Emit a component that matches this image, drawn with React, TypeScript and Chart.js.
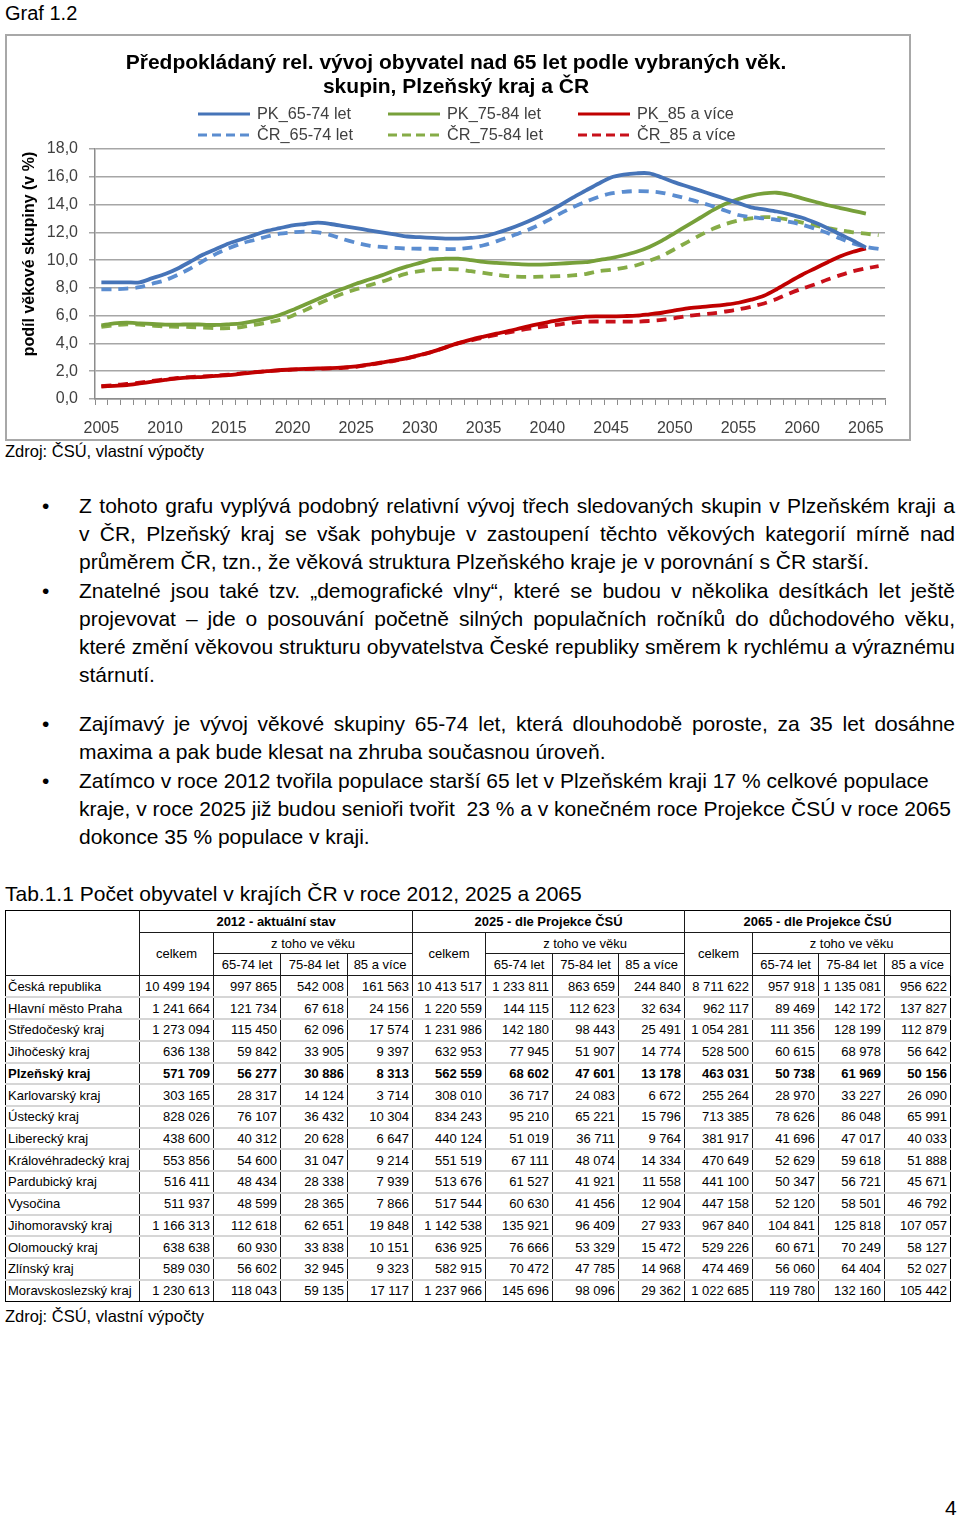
import React, { useEffect, useRef } from 'react';
import { Chart, registerables } from 'chart.js';

Chart.register(...registerables);

const FONT = '"Liberation Sans", Arial, Helvetica, sans-serif';

// ---------- chart data ----------
const years = [
  '2005', '2006', '2007', '2008', '2009', '2010', '2011', '2012', '2013', '2014',
  '2015', '2016', '2017', '2018', '2019', '2020', '2021', '2022', '2023', '2024',
  '2025', '2026', '2027', '2028', '2029', '2030', '2031', '2032', '2033', '2034',
  '2035', '2036', '2037', '2038', '2039', '2040', '2041', '2042', '2043', '2044',
  '2045', '2046', '2047', '2048', '2049', '2050', '2051', '2052', '2053', '2054',
  '2055', '2056', '2057', '2058', '2059', '2060', '2061', '2062', '2063', '2064',
  '2065', '2066',
];
const xTickLabels = ['2005', '2010', '2015', '2020', '2025', '2030', '2035', '2040', '2045', '2050', '2055', '2060', '2065'];

const chartTitle = [
  'Předpokládaný rel. vývoj obyvatel nad 65 let podle vybraných věk.',
  'skupin, Plzeňský kraj a ČR',
];
const yAxisTitle = 'podíl věkové skupiny (v %)';

const pk6574 = [
  8.4, 8.4, 8.4, 8.4, 8.7, 9.0, 9.4, 9.9, 10.4, 10.8,
  11.2, 11.5, 11.8, 12.1, 12.3, 12.5, 12.6, 12.7, 12.6, 12.45,
  12.3, 12.15, 12.0, 11.85, 11.7, 11.65, 11.6, 11.55, 11.55, 11.6,
  11.7, 11.95, 12.25, 12.6, 13.0, 13.45, 13.95, 14.5, 15.0, 15.5,
  15.95, 16.15, 16.25, 16.25, 15.95, 15.6, 15.3, 15.0, 14.7, 14.4,
  14.1, 13.8, 13.65, 13.5, 13.3, 13.05, 12.7, 12.3, 11.85, 11.4,
  10.9,
];
const pk7584 = [
  5.3, 5.45, 5.5, 5.45, 5.4, 5.35, 5.35, 5.38, 5.35, 5.33,
  5.38, 5.45, 5.6, 5.8, 6.05, 6.4, 6.8, 7.2, 7.6, 7.95,
  8.3, 8.6, 8.9, 9.25, 9.55, 9.8, 10.05, 10.1, 10.1, 10.0,
  9.87, 9.8, 9.75, 9.7, 9.68, 9.7, 9.75, 9.8, 9.85, 10.0,
  10.15, 10.35, 10.6, 10.95, 11.4, 11.95, 12.5, 13.05, 13.6, 14.05,
  14.4, 14.65, 14.8, 14.85, 14.7, 14.45, 14.2, 13.95, 13.75, 13.55,
  13.35,
];
const pk85 = [
  0.9, 0.95, 1.0, 1.12, 1.25, 1.37, 1.48, 1.55, 1.6, 1.66,
  1.72, 1.82, 1.91, 2.0, 2.08, 2.13, 2.17, 2.2, 2.22, 2.27,
  2.35, 2.48, 2.63, 2.78, 2.95, 3.17, 3.41, 3.72, 4.02, 4.27,
  4.49, 4.7, 4.9, 5.12, 5.33, 5.52, 5.69, 5.82, 5.93, 5.95,
  5.95, 5.97, 6.0, 6.1, 6.21, 6.38, 6.53, 6.62, 6.7, 6.8,
  6.93, 7.15, 7.43, 7.9, 8.44, 8.95, 9.4, 9.85, 10.28, 10.6,
  10.85,
];
const cr6574 = [
  7.9, 7.9, 7.95, 8.05, 8.3, 8.55, 8.95, 9.4, 9.95, 10.45,
  10.85, 11.2, 11.45, 11.7, 11.9, 12.0, 12.05, 12.0, 11.8, 11.5,
  11.25, 11.05, 10.95, 10.88, 10.83, 10.82, 10.82, 10.8, 10.8, 10.9,
  11.07, 11.35, 11.67, 12.0, 12.38, 12.85, 13.35, 13.8, 14.2, 14.55,
  14.8, 14.92, 14.97, 14.95, 14.85, 14.65, 14.42, 14.15, 13.87, 13.55,
  13.25, 13.1, 13.0, 12.9, 12.75, 12.55, 12.27, 11.95, 11.55, 11.2,
  10.95, 10.8,
];
const cr7584 = [
  5.2, 5.3, 5.38, 5.35, 5.28, 5.22, 5.2, 5.18, 5.14, 5.1,
  5.1, 5.18, 5.33, 5.5, 5.7, 6.0, 6.4, 6.85, 7.25, 7.6,
  7.9, 8.18, 8.45, 8.75, 9.04, 9.2, 9.33, 9.35, 9.33, 9.2,
  9.08, 8.95, 8.84, 8.8, 8.8, 8.82, 8.84, 8.9, 9.0, 9.2,
  9.3, 9.45, 9.63, 9.95, 10.3, 10.8, 11.3, 11.8, 12.25, 12.6,
  12.85, 13.0, 13.1, 13.05, 12.9, 12.7, 12.5, 12.3, 12.15, 12.0,
  11.9, 11.8,
];
const cr85 = [
  0.92, 1.0, 1.08, 1.18, 1.3, 1.42, 1.52, 1.58, 1.63, 1.68,
  1.75, 1.85, 1.93, 2.0, 2.07, 2.12, 2.15, 2.18, 2.2, 2.24,
  2.32, 2.45, 2.6, 2.75, 2.93, 3.15, 3.4, 3.7, 4.0, 4.22,
  4.43, 4.62, 4.8, 4.98, 5.12, 5.25, 5.38, 5.5, 5.57, 5.58,
  5.57, 5.57, 5.57, 5.62, 5.69, 5.82, 5.98, 6.08, 6.17, 6.3,
  6.45, 6.65, 6.88, 7.2, 7.6, 7.95, 8.25, 8.6, 8.92, 9.2,
  9.4, 9.57,
];

const seriesLabels = ['PK_65-74 let', 'PK_75-84 let', 'PK_85 a více', 'ČR_65-74 let', 'ČR_75-84 let', 'ČR_85 a více'];

// ---------- table data ----------
const regions = [
  'Česká republika', 'Hlavní město Praha', 'Středočeský kraj', 'Jihočeský kraj', 'Plzeňský kraj',
  'Karlovarský kraj', 'Ústecký kraj', 'Liberecký kraj', 'Královéhradecký kraj', 'Pardubický kraj',
  'Vysočina', 'Jihomoravský kraj', 'Olomoucký kraj', 'Zlínský kraj', 'Moravskoslezský kraj',
];
const tot2012 = [10499194, 1241664, 1273094, 636138, 571709, 303165, 828026, 438600, 553856, 516411, 511937, 1166313, 638638, 589030, 1230613];
const a6574_2012 = [997865, 121734, 115450, 59842, 56277, 28317, 76107, 40312, 54600, 48434, 48599, 112618, 60930, 56602, 118043];
const a7584_2012 = [542008, 67618, 62096, 33905, 30886, 14124, 36432, 20628, 31047, 28338, 28365, 62651, 33838, 32945, 59135];
const a85_2012 = [161563, 24156, 17574, 9397, 8313, 3714, 10304, 6647, 9214, 7939, 7866, 19848, 10151, 9323, 17117];
const tot2025 = [10413517, 1220559, 1231986, 632953, 562559, 308010, 834243, 440124, 551519, 513676, 517544, 1142538, 636925, 582915, 1237966];
const a6574_2025 = [1233811, 144115, 142180, 77945, 68602, 36717, 95210, 51019, 67111, 61527, 60630, 135921, 76666, 70472, 145696];
const a7584_2025 = [863659, 112623, 98443, 51907, 47601, 24083, 65221, 36711, 48074, 41921, 41456, 96409, 53329, 47785, 98096];
const a85_2025 = [244840, 32634, 25491, 14774, 13178, 6672, 15796, 9764, 14334, 11558, 12904, 27933, 15472, 14968, 29362];
const tot2065 = [8711622, 962117, 1054281, 528500, 463031, 255264, 713385, 381917, 470649, 441100, 447158, 967840, 529226, 474469, 1022685];
const a6574_2065 = [957918, 89469, 111356, 60615, 50738, 28970, 78626, 41696, 52629, 50347, 52120, 104841, 60671, 56060, 119780];
const a7584_2065 = [1135081, 142172, 128199, 68978, 61969, 33227, 86048, 47017, 59618, 56721, 58501, 125818, 70249, 64404, 132160];
const a85_2065 = [956622, 137827, 112879, 56642, 50156, 26090, 65991, 40033, 51888, 45671, 46792, 107057, 58127, 52027, 105442];
const groupHeaders = ['2012 - aktuální stav', '2025 - dle Projekce ČSÚ', '2065 - dle Projekce ČSÚ'];
const ageHeaders = ['65-74 let', '75-84 let', '85 a více'];
const boldRegion = 'Plzeňský kraj';

const tableColumns = [tot2012, a6574_2012, a7584_2012, a85_2012, tot2025, a6574_2025, a7584_2025, a85_2025, tot2065, a6574_2065, a7584_2065, a85_2065];
const colWidths = [134, 74, 67, 67, 65, 73, 67, 66, 66, 68, 66, 66, 66];

const fmt = (n: number) => n.toString().replace(/\B(?=(\d{3})+(?!\d))/g, '\u00a0');

// ---------- chart ----------
const COLORS = {
  blue: '#4674B8',
  blueD: '#5B8DD0',
  green: '#77A03A',
  greenD: '#86AC47',
  red: '#C00000',
  redD: '#C8101A',
};

const overlayPlugin = {
  id: 'overlay',
  afterDraw(chart: any) {
    const ctx = chart.ctx as CanvasRenderingContext2D;
    ctx.save();
    ctx.translate(23, 218);
    ctx.rotate(-Math.PI / 2);
    ctx.font = `bold 16px ${FONT}`;
    ctx.fillStyle = '#000';
    ctx.textAlign = 'center';
    ctx.textBaseline = 'middle';
    ctx.fillText(yAxisTitle, 0, 0);
    ctx.restore();

    const colX = [191, 381, 571];
    const rowY = [78, 99];
    chart.data.datasets.forEach((ds: any, i: number) => {
      const x = colX[i % 3];
      const y = rowY[Math.floor(i / 3)];
      ctx.save();
      ctx.strokeStyle = ds.borderColor;
      ctx.lineWidth = 3;
      ctx.setLineDash(ds.borderDash && ds.borderDash.length ? [9, 5] : []);
      ctx.beginPath();
      ctx.moveTo(x, y);
      ctx.lineTo(x + 52, y);
      ctx.stroke();
      ctx.setLineDash([]);
      ctx.fillStyle = '#404040';
      ctx.font = `16.3px ${FONT}`;
      ctx.textAlign = 'left';
      ctx.textBaseline = 'middle';
      ctx.fillText(ds.label, x + 59, y + 1);
      ctx.restore();
    });
  },
};

function LineChart() {
  const ref = useRef<HTMLCanvasElement>(null);
  useEffect(() => {
    const mk = (label: string, data: number[], color: string, dashed: boolean) => ({
      label,
      data,
      borderColor: color,
      backgroundColor: color,
      borderWidth: 3.8,
      borderDash: dashed ? [10, 7] : [],
      pointRadius: 0,
      pointHoverRadius: 0,
      tension: 0.3,
      fill: false,
      borderCapStyle: 'butt',
    });
    const chart = new Chart(ref.current!, {
      type: 'line',
      data: {
        labels: years,
        datasets: [
          mk(seriesLabels[0], pk6574, COLORS.blue, false),
          mk(seriesLabels[1], pk7584, COLORS.green, false),
          mk(seriesLabels[2], pk85, COLORS.red, false),
          mk(seriesLabels[3], cr6574, COLORS.blueD, true),
          mk(seriesLabels[4], cr7584, COLORS.greenD, true),
          mk(seriesLabels[5], cr85, COLORS.redD, true),
        ] as any,
      },
      options: {
        responsive: false,
        animation: false,
        devicePixelRatio: 1,
        layout: { padding: { left: 20, right: 24, top: 0, bottom: 0 } },
        plugins: {
          legend: { display: false },
          tooltip: { enabled: false },
          title: {
            display: true,
            text: chartTitle,
            color: '#000',
            font: { family: FONT, size: 21, weight: 'bold', lineHeight: 1.143 },
            padding: { top: 15, bottom: 50 },
          },
        },
        scales: {
          x: {
            type: 'category',
            offset: true,
            grid: {
              offset: true,
              drawOnChartArea: false,
              drawTicks: true,
              tickLength: 6,
              color: '#8c8c8c',
              lineWidth: 1,
            },
            border: { display: true, color: '#8c8c8c', width: 1.5 },
            ticks: {
              autoSkip: false,
              maxRotation: 0,
              minRotation: 0,
              padding: 14,
              color: '#404040',
              font: { family: FONT, size: 16 },
              callback: function (this: any, v: any) {
                const l = this.getLabelForValue(v);
                return xTickLabels.includes(l) ? l : '';
              },
            },
            afterFit: (s: any) => {
              s.height = 40;
            },
          },
          y: {
            min: 0,
            max: 18,
            grid: { color: '#a6a6a6', lineWidth: 1.5, tickLength: 6, drawTicks: true },
            border: { display: true, color: '#8c8c8c', width: 1.5 },
            ticks: {
              stepSize: 2,
              padding: 11,
              color: '#404040',
              font: { family: FONT, size: 16 },
              callback: (v: any) => Number(v).toFixed(1).replace('.', ','),
            },
            afterFit: (s: any) => {
              s.width = 68;
            },
          },
        },
      } as any,
      plugins: [overlayPlugin],
    });
    return () => chart.destroy();
  }, []);
  return <canvas ref={ref} width={902} height={403} style={{ display: 'block', width: 902, height: 403 }} />;
}

// ---------- text ----------
const para1 = [
  'Z tohoto grafu vyplývá podobný relativní vývoj třech sledovaných skupin v Plzeňském kraji a',
  'v ČR, Plzeňský kraj se však pohybuje v zastoupení těchto věkových kategorií mírně nad',
  'průměrem ČR, tzn., že věková struktura Plzeňského kraje je v porovnání s ČR starší.',
];
const para2 = [
  'Znatelné jsou také tzv. „demografické vlny“, které se budou v několika desítkách let ještě',
  'projevovat – jde o posouvání početně silných populačních ročníků do důchodového věku,',
  'které změní věkovou strukturu obyvatelstva České republiky směrem k rychlému a výraznému',
  'stárnutí.',
];
const para3 = [
  'Zajímavý je vývoj věkové skupiny 65-74 let, která dlouhodobě poroste, za 35 let dosáhne',
  'maxima a pak bude klesat na zhruba současnou úroveň.',
];
const para4 = [
  'Zatímco v roce 2012 tvořila populace starší 65 let v Plzeňském kraji 17 % celkové populace',
  'kraje, v roce 2025 již budou senioři tvořit \u00a023 % a v konečném roce Projekce ČSÚ v roce 2065',
  'dokonce 35 % populace v kraji.',
];

function Bullet({ top, lines, justify }: { top: number; lines: string[]; justify: boolean }) {
  return (
    <div style={{ position: 'absolute', left: 0, top, width: 960 }}>
      <div style={{ position: 'absolute', left: 42, top: 0, fontSize: 21, lineHeight: '28px' }}>•</div>
      <div style={{ position: 'absolute', left: 79, top: 0, width: 876, fontSize: 21, lineHeight: '28px' }}>
        {lines.map((l, i) => {
          const j = justify && i < lines.length - 1;
          return (
            <div
              key={i}
              style={{
                textAlign: j ? 'justify' : 'left',
                textAlignLast: j ? 'justify' : 'left',
                whiteSpace: j ? 'normal' : 'nowrap',
              } as any}
            >
              {l}
            </div>
          );
        })}
      </div>
    </div>
  );
}

function DataTable() {
  const dark = '1px solid #1a1a1a';
  const outer = '1.5px solid #000';
  const light = '2px solid #d6d6d6';
  const cellBase: React.CSSProperties = {
    padding: '0 3px',
    whiteSpace: 'nowrap',
    overflow: 'hidden',
    lineHeight: '15px',
  };
  const hdr: React.CSSProperties = { ...cellBase, border: dark, textAlign: 'center', fontWeight: 'normal' };
  const rowH = 21.72;
  return (
    <table
      style={{
        position: 'absolute',
        left: 5,
        top: 910,
        width: 945,
        borderCollapse: 'collapse',
        tableLayout: 'fixed',
        fontFamily: FONT,
        fontSize: 13,
        color: '#000',
        border: outer,
      }}
    >
      <colgroup>
        {colWidths.map((w, i) => (
          <col key={i} style={{ width: w }} />
        ))}
      </colgroup>
      <thead>
        <tr style={{ height: rowH }}>
          <th rowSpan={3} style={{ ...hdr, borderLeft: outer, borderTop: outer }} />
          {groupHeaders.map((g, i) => (
            <th key={i} colSpan={4} style={{ ...hdr, fontWeight: 'bold', borderTop: outer }}>
              {g}
            </th>
          ))}
        </tr>
        <tr style={{ height: rowH }}>
          {groupHeaders.map((_, i) => (
            <React.Fragment key={i}>
              <th rowSpan={2} style={hdr}>celkem</th>
              <th colSpan={3} style={hdr}>z toho ve věku</th>
            </React.Fragment>
          ))}
        </tr>
        <tr style={{ height: rowH }}>
          {groupHeaders.map((_, i) => (
            <React.Fragment key={i}>
              {ageHeaders.map((a, k) => (
                <th key={k} style={hdr}>{a}</th>
              ))}
            </React.Fragment>
          ))}
        </tr>
      </thead>
      <tbody>
        {regions.map((r, ri) => {
          const last = ri === regions.length - 1;
          const bold = r === boldRegion;
          const bottom = last ? outer : light;
          return (
            <tr key={ri} style={{ height: rowH, fontWeight: bold ? 'bold' : 'normal' }}>
              <td style={{ ...cellBase, paddingLeft: 2, textAlign: 'left', borderLeft: outer, borderRight: dark, borderBottom: bottom }}>{r}</td>
              {tableColumns.map((col, ci) => (
                <td
                  key={ci}
                  style={{ ...cellBase, textAlign: 'right', borderRight: ci === tableColumns.length - 1 ? outer : dark, borderBottom: bottom }}
                >
                  {fmt(col[ri])}
                </td>
              ))}
            </tr>
          );
        })}
      </tbody>
    </table>
  );
}

export default function App() {
  return (
    <div style={{ position: 'relative', width: 960, height: 1517, fontFamily: FONT, color: '#000', background: '#fff' }}>
      <style>{`html,body{margin:0;padding:0;background:#fff;}`}</style>
      <div style={{ position: 'absolute', left: 5, top: 1, fontSize: 20, lineHeight: '24px' }}>Graf 1.2</div>
      <div
        style={{
          position: 'absolute',
          left: 5,
          top: 34,
          width: 906,
          height: 407,
          border: '2px solid #a8a8a8',
          boxSizing: 'border-box',
        }}
      >
        <LineChart />
      </div>
      <div style={{ position: 'absolute', left: 5, top: 441, fontSize: 16.5, lineHeight: '20px' }}>Zdroj: ČSÚ, vlastní výpočty</div>

      <Bullet top={492} lines={para1} justify />
      <Bullet top={577} lines={para2} justify />
      <Bullet top={710} lines={para3} justify />
      <Bullet top={767} lines={para4} justify={false} />

      <div style={{ position: 'absolute', left: 5, top: 882, fontSize: 21, lineHeight: '24px' }}>
        Tab.1.1 Počet obyvatel v krajích ČR v roce 2012, 2025 a 2065
      </div>
      <DataTable />
      <div style={{ position: 'absolute', left: 5, top: 1306, fontSize: 16.5, lineHeight: '20px' }}>Zdroj: ČSÚ, vlastní výpočty</div>
      <div style={{ position: 'absolute', left: 945, top: 1496, fontSize: 21, lineHeight: '24px' }}>4</div>
    </div>
  );
}
